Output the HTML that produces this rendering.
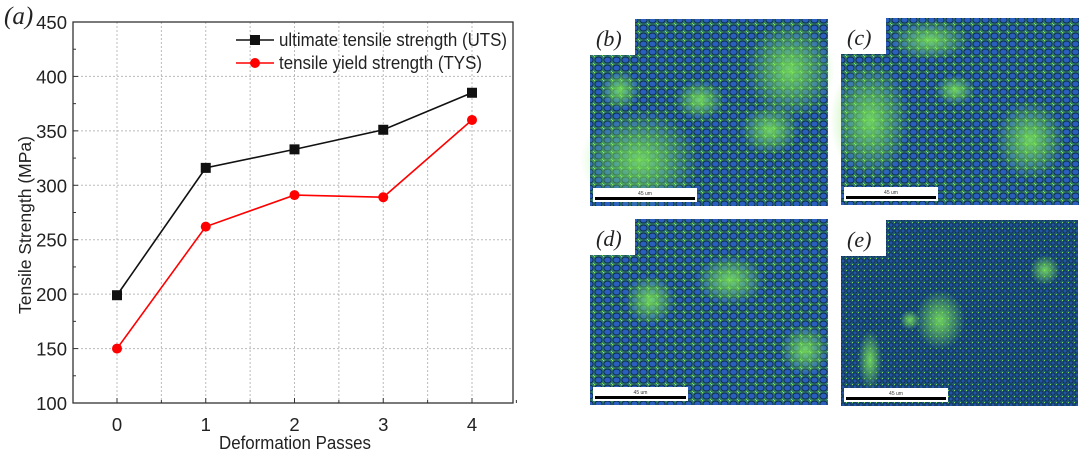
<!DOCTYPE html>
<html><head><meta charset="utf-8"><style>
html,body{margin:0;padding:0;background:#fff;}
body{width:1080px;height:454px;overflow:hidden;position:relative;font-family:"Liberation Sans",sans-serif;}
svg{position:absolute;left:0;top:0;}
</style></head><body>
<svg width="1080" height="454" viewBox="0 0 1080 454">
<defs>
<pattern id="grains" width="9" height="8" patternUnits="userSpaceOnUse">
<rect width="9" height="8" fill="#2f7a6a"/>
<ellipse cx="4.5" cy="4" rx="3.6" ry="3" fill="#2a5fc0" stroke="#0d2a4a" stroke-width="0.9"/>
<circle cx="0" cy="0" r="1.3" fill="#8be85a"/>
<circle cx="9" cy="8" r="1.1" fill="#8be85a"/>
</pattern>
<pattern id="grainsFine" width="6" height="6" patternUnits="userSpaceOnUse">
<rect width="6" height="6" fill="#1d5a78"/>
<circle cx="3" cy="3" r="2.1" fill="#2256a8" stroke="#0b2240" stroke-width="0.8"/>
<circle cx="0" cy="0" r="1.1" fill="#8ee860"/>
</pattern>
<radialGradient id="gblob"><stop offset="0" stop-color="#7de85a" stop-opacity="0.85"/><stop offset="1" stop-color="#7de85a" stop-opacity="0"/></radialGradient>
</defs>
<g id="chart"></g>
<g id="micros"></g>
</svg>
<script>
const categories=[0,1,2,3,4];
const utsValues=[199,316,333,351,385];
const tysValues=[150,262,291,289,360];
const yTicks=[100,150,200,250,300,350,400,450];
const NS='http://www.w3.org/2000/svg';
const L=73,R=513,T=22,B=403;
const xs=v=>117+(v-0)*(472-117)/4;
const ys=v=>B-(v-100)*(B-T)/350;
const g=document.getElementById('chart');
function mk(tag,attrs,parent){const e=document.createElementNS(NS,tag);for(const k in attrs)e.setAttribute(k,attrs[k]);(parent||g).appendChild(e);return e;}
yTicks.forEach(v=>{if(v>100&&v<450){const l=mk('line',{x1:L,x2:R,y1:ys(v),y2:ys(v),stroke:'#bbb','stroke-dasharray':'2,2','stroke-width':1});

}});
for(let i=-0.5;i<=4.5;i+=0.5){const x=xs(i);if(x>L&&x<R){const l=mk('line',{x1:x,x2:x,y1:T,y2:B,stroke:'#bbb','stroke-dasharray':'2,2','stroke-width':1});

}}
const frame=mk('rect',{x:L,y:T,width:R-L,height:B-T,fill:'none',stroke:'#333','stroke-width':1.3});


yTicks.forEach(v=>{mk('line',{x1:L,x2:L+5,y1:ys(v),y2:ys(v),stroke:'#333'});
const t=mk('text',{x:L-6,y:ys(v)+7,'text-anchor':'end','font-size':18.5,fill:'#222'});t.textContent=v;


if(v<450){mk('line',{x1:L,x2:L+3,y1:ys(v+25),y2:ys(v+25),stroke:'#333'});}});
categories.forEach(c=>{mk('line',{x1:xs(c),x2:xs(c),y1:B,y2:B-5,stroke:'#333'});mk('line',{x1:xs(c+0.5),x2:xs(c+0.5),y1:B,y2:B-3,stroke:'#333'});
const t=mk('text',{x:xs(c),y:B+28,'text-anchor':'middle','font-size':18.5,fill:'#222'});t.textContent=c;

});
const xt=mk('text',{x:295,y:449,'text-anchor':'middle','font-size':18,fill:'#222',textLength:152,lengthAdjust:'spacingAndGlyphs'});xt.textContent='Deformation Passes';


const yt=mk('text',{x:0,y:0,'text-anchor':'middle','font-size':17.5,fill:'#222',transform:'translate(31,225) rotate(-90)'});yt.textContent='Tensile Strength (MPa)';


const pa=mk('text',{x:4,y:24,'font-size':25,'font-family':'Liberation Serif, serif','font-style':'italic',fill:'#222'});pa.textContent='(a)';


function series(vals,color,marker,name){
const p=mk('polyline',{points:vals.map((v,i)=>xs(categories[i])+','+ys(v)).join(' '),fill:'none',stroke:color,'stroke-width':1.6});


vals.forEach((v,i)=>{let m;const x=xs(categories[i]),y=ys(v);
if(marker==='sq')m=mk('rect',{x:x-5,y:y-5,width:10,height:10,fill:color});else m=mk('circle',{cx:x,cy:y,r:5,fill:color});

});}
series(utsValues,'#111','sq','uts');
series(tysValues,'#f00','ci','tys');
function legend(y,color,marker,label,name,len){
const lg=mk('g',{});


mk('line',{x1:236,x2:274,y1:y,y2:y,stroke:color,'stroke-width':1.6},lg);
if(marker==='sq')mk('rect',{x:250,y:y-5,width:10,height:10,fill:color},lg);else mk('circle',{cx:255,cy:y,r:5,fill:color},lg);
const t=mk('text',{x:279,y:y+6,'font-size':18,fill:'#222',textLength:len,lengthAdjust:'spacingAndGlyphs'},lg);t.textContent=label;}
legend(40,'#111','sq','ultimate tensile strength (UTS)','legend-entry-uts',228);
legend(63,'#f00','ci','tensile yield strength (TYS)','legend-entry-tys',203);
const mg=document.getElementById('micros');
const panels=[
{x:590,y:19,w:238,h:187,l:'(b)',fill:'url(#grains)',blobs:[[640,160,60,50],[790,70,45,50],[700,100,25,20],[770,130,30,25],[620,90,20,20]]},
{x:841,y:18,w:238,h:187,l:'(c)',fill:'url(#grains)',blobs:[[870,120,40,60],[1030,140,35,40],[930,40,40,20],[955,90,20,15]]},
{x:590,y:219,w:238,h:186,l:'(d)',fill:'url(#grains)',blobs:[[730,280,35,25],[650,300,25,25],[805,350,25,25]]},
{x:841,y:220,w:237,h:186,l:'(e)',fill:'url(#grainsFine)',blobs:[[940,320,25,30],[1045,270,15,15],[910,320,10,10],[870,360,12,30]]}];
panels.forEach((p,i)=>{
const pg=mk('g',{},mg);


mk('rect',{x:p.x,y:p.y,width:p.w,height:p.h,fill:p.fill},pg);
p.blobs.forEach(b=>mk('ellipse',{cx:b[0],cy:b[1],rx:b[2],ry:b[3],fill:'url(#gblob)'},pg));
mk('rect',{x:p.x,y:p.y,width:45,height:36,fill:'#fff'},pg);
const t=mk('text',{x:p.x+6,y:p.y+27,'font-size':22,'font-family':'Liberation Serif, serif','font-style':'italic',fill:'#222'},pg);t.textContent=p.l;
const sw=[104,94,95,104][i];
mk('rect',{x:p.x+3,y:p.y+p.h-18,width:sw,height:14,fill:'#fff'},pg);
mk('rect',{x:p.x+5,y:p.y+p.h-9,width:sw-4,height:3,fill:'#000'},pg);
const s=mk('text',{x:p.x+3+sw/2,y:p.y+p.h-11,'text-anchor':'middle','font-size':5,fill:'#333'},pg);s.textContent='45 um';


});
</script>
</body></html>
